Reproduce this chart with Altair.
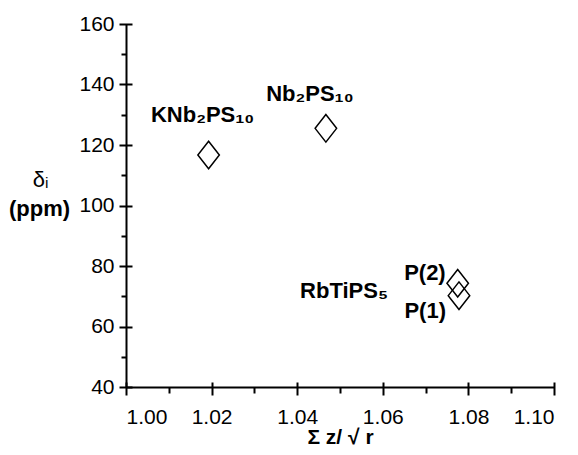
import altair as alt
import pandas as pd

# --- data ---
compounds = ["KNb2PS10", "Nb2PS10", "RbTiPS5 P(2)", "RbTiPS5 P(1)"]
sum_z_sqrt_r = [1.0193, 1.0467, 1.0775, 1.0778]
delta_ppm = [116.7, 125.5, 74.3, 70.2]

x_major = [1.00, 1.02, 1.04, 1.06, 1.08, 1.10]
x_minor = [1.01, 1.03, 1.05, 1.07, 1.09]
y_major = [40, 60, 80, 100, 120, 140, 160]
y_minor = [50, 70, 90, 110, 130, 150]

label_texts = ["KNb₂PS₁₀", "Nb₂PS₁₀", "RbTiPS₅", "P(2)", "P(1)"]
label_points = ["KNb2PS10", "Nb2PS10", "RbTiPS5 P(1)", "RbTiPS5 P(2)", "RbTiPS5 P(1)"]

df = pd.DataFrame({"compound": compounds, "x": sum_z_sqrt_r, "y": delta_ppm})

FONT = "Liberation Sans"
xs = alt.Scale(domain=[1.0, 1.1], nice=False, zero=False)
ys = alt.Scale(domain=[40, 160], nice=False, zero=False)

base = alt.Chart(df)

# main layer: points + domain lines + labels + titles
points = base.mark_point(
    shape="M0,-1L0.78,0L0,1L-0.78,0Z", size=760, filled=False,
    stroke="black", strokeWidth=1.5, opacity=1
).encode(
    x=alt.X("x:Q", scale=xs, axis=alt.Axis(
        orient="bottom", values=x_major, format=".2f", ticks=False, tickSize=0, grid=False,
        domainColor="black", domainWidth=2, labelPadding=19,
        labelFont=FONT, labelFontSize=21, labelColor="black",
        title="Σ z/ √ r", titleFont=FONT, titleFontSize=21, titleFontWeight="bold",
        titleColor="black", titleBaseline="alphabetic", titleY=56)),
    y=alt.Y("y:Q", scale=ys, axis=alt.Axis(
        orient="left", values=y_major, ticks=False, tickSize=0, grid=False,
        domainColor="black", domainWidth=2, labelPadding=12,
        labelFont=FONT, labelFontSize=21, labelColor="black",
        title="(ppm)", titleFont=FONT, titleFontSize=22, titleFontWeight="bold",
        titleColor="black", titleAngle=0, titleAlign="center",
        titleBaseline="alphabetic", titleX=-87, titleY=191)),
)

# major ticks crossing the axis line
major_ticks = base.mark_point(opacity=0).encode(
    x=alt.X("x:Q", scale=xs, axis=alt.Axis(
        orient="bottom", values=x_major, labels=False, domain=False, grid=False, title=None,
        tickSize=13, tickWidth=2, tickColor="black", offset=-5)),
    y=alt.Y("y:Q", scale=ys, axis=alt.Axis(
        orient="left", values=y_major, labels=False, domain=False, grid=False,
        tickSize=13, tickWidth=2, tickColor="black", offset=-6,
        title="δᵢ", titleFont=FONT, titleFontSize=22, titleFontWeight="normal",
        titleColor="black", titleAngle=0, titleAlign="center",
        titleBaseline="alphabetic", titleX=-92, titleY=162)),
)

# minor ticks
minor_ticks = base.mark_point(opacity=0).encode(
    x=alt.X("x:Q", scale=xs, axis=alt.Axis(
        orient="bottom", values=x_minor, labels=False, domain=False, grid=False, title=None,
        tickSize=6, tickWidth=2, tickColor="black")),
    y=alt.Y("y:Q", scale=ys, axis=alt.Axis(
        orient="left", values=y_minor, labels=False, domain=False, grid=False, title=None,
        tickSize=5, tickWidth=2, tickColor="black")),
)

# label offsets (style only)
label_style = {
    "KNb₂PS₁₀": dict(align="center", dx=-6, dy=-33),
    "Nb₂PS₁₀": dict(align="center", dx=-16, dy=-27),
    "RbTiPS₅": dict(align="right", dx=-71, dy=2),
    "P(2)": dict(align="right", dx=-12, dy=-3),
    "P(1)": dict(align="right", dx=-13, dy=22),
}

texts = []
for txt, pt in zip(label_texts, label_points):
    st = label_style[txt]
    texts.append(
        base.transform_filter(alt.datum.compound == pt).mark_text(
            text=txt, font=FONT, fontSize=22, fontWeight="bold", color="black",
            baseline="alphabetic", **st
        ).encode(
            x=alt.X("x:Q", scale=xs, axis=None),
            y=alt.Y("y:Q", scale=ys, axis=None),
        )
    )

chart = alt.layer(points, major_ticks, minor_ticks, *texts).resolve_axis(
    x="independent", y="independent"
).properties(
    width=428, height=363,
    autosize=alt.AutoSizeParams(type="none"),
    padding={"left": 126, "top": 24, "right": 24, "bottom": 68},
    background="white",
).configure_view(stroke=None)

chart.save("out.html", embed_options={"renderer": "svg", "actions": False})
